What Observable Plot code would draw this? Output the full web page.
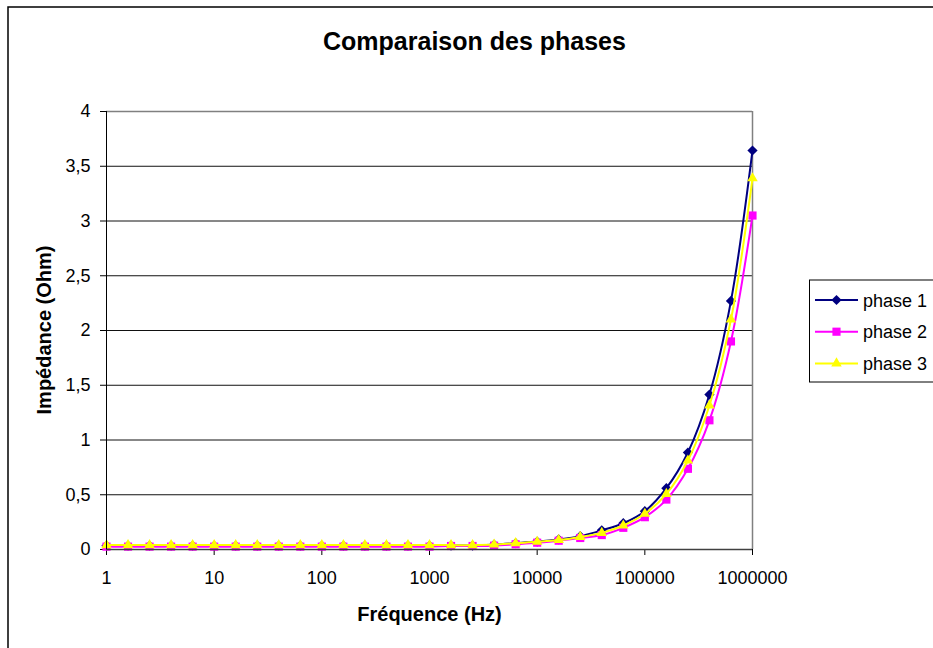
<!DOCTYPE html>
<html>
<head>
<meta charset="utf-8">
<script src="https://cdn.jsdelivr.net/npm/d3@7"></script>
<script src="https://cdn.jsdelivr.net/npm/@observablehq/plot@0.6"></script>
<style>
  html, body { margin: 0; padding: 0; background: #fff; }
  #chart { width: 933px; height: 648px; overflow: hidden; }
</style>
</head>
<body>
<div id="chart"></div>
<script>
// ---- data ----
const titleText = "Comparaison des phases";
const xLabel = "Fréquence (Hz)";
const yLabel = "Impédance (Ohm)";
const seriesNames = ["phase 1", "phase 2", "phase 3"];
const seriesColors = ["#000080", "#FF00FF", "#FFFF00"];
const seriesSymbols = ["diamond2", "square", "triangle"];
const seriesR = [4.6, 4.6, 3.9];

const freqs = [1, 1.585, 2.512, 3.981, 6.31, 10, 15.85, 25.12, 39.81, 63.1,
  100, 158.5, 251.2, 398.1, 631, 1000, 1585, 2512, 3981, 6310,
  10000, 15849, 25119, 39811, 63096, 100000, 158489, 251189, 398107, 630957, 1000000];

const phase1 = [0.035, 0.035, 0.035, 0.035, 0.035, 0.035, 0.035, 0.035, 0.035, 0.035,
  0.035, 0.035, 0.035, 0.035, 0.035, 0.035, 0.036, 0.036, 0.045, 0.058,
  0.072, 0.092, 0.122, 0.175, 0.24, 0.35, 0.56, 0.886, 1.415, 2.27, 3.644];
const phase2 = [0.026, 0.026, 0.026, 0.026, 0.026, 0.026, 0.026, 0.026, 0.026, 0.026,
  0.026, 0.026, 0.026, 0.026, 0.026, 0.026, 0.032, 0.032, 0.035, 0.048,
  0.062, 0.08, 0.105, 0.132, 0.198, 0.295, 0.456, 0.737, 1.18, 1.90, 3.05];
const phase3 = [0.04, 0.04, 0.04, 0.04, 0.04, 0.04, 0.04, 0.04, 0.04, 0.04,
  0.04, 0.04, 0.04, 0.04, 0.04, 0.04, 0.04, 0.04, 0.045, 0.058,
  0.07, 0.086, 0.115, 0.152, 0.219, 0.326, 0.508, 0.813, 1.315, 2.10, 3.39];

const yTicks = [0, 0.5, 1, 1.5, 2, 2.5, 3, 3.5, 4];
const xTicks = [1, 10, 100, 1000, 10000, 100000, 1000000];

// ---- build table ----
const seriesValues = [phase1, phase2, phase3];
const rows = [];
seriesNames.forEach((name, i) => {
  freqs.forEach((f, j) => rows.push({ f, v: seriesValues[i][j], s: name }));
});

const seriesMarks = [];
seriesNames.forEach((name, i) => {
  const d = rows.filter(r => r.s === name);
  seriesMarks.push(Plot.line(d, { x: "f", y: "v", stroke: seriesColors[i], strokeWidth: 2, curve: "catmull-rom" }));
  seriesMarks.push(Plot.dot(d, { x: "f", y: "v", symbol: seriesSymbols[i], r: seriesR[i], fill: seriesColors[i], stroke: "none" }));
});

const W = 933, H = 648;
const plot = Plot.plot({
  width: W,
  height: H,
  marginLeft: 106,
  marginRight: 181,
  marginTop: 111,
  marginBottom: 99,
  style: { fontFamily: "'Liberation Sans', Arial, sans-serif", fontSize: "18px", background: "#fff", color: "#000" },
  x: {
    type: "log", domain: [1, 1000000], ticks: xTicks, tickFormat: d => String(d),
    tickSize: 6, tickPadding: 16, label: null
  },
  y: {
    domain: [0, 4], ticks: yTicks, tickFormat: d => String(d).replace(".", ","),
    tickSize: 6, tickPadding: 10, label: null
  },
  marks: [
    Plot.ruleY(yTicks.filter(d => d > 0 && d < 4), { stroke: "#111", strokeWidth: 1 }),
    Plot.ruleY([4], { stroke: "#808080", strokeWidth: 1.5 }),
    Plot.ruleX([1000000], { stroke: "#808080", strokeWidth: 1.5 }),
    ...seriesMarks,
    Plot.ruleY([0], { stroke: "#404040", strokeWidth: 1.5 }),
    Plot.ruleX([1], { stroke: "#000", strokeWidth: 1 })
  ]
});

document.getElementById("chart").appendChild(plot);

// ---- decorations: border, titles, legend ----
const svg = d3.select(plot);
svg.insert("rect", ":first-child")
  .attr("x", 8).attr("y", 7).attr("width", 1200).attr("height", 1200)
  .attr("fill", "none").attr("stroke", "#000").attr("stroke-width", 1.5);

svg.append("text").text(titleText)
  .attr("x", 474.5).attr("y", 50)
  .attr("text-anchor", "middle").attr("font-weight", "bold").attr("font-size", 25).attr("fill", "#000");

svg.append("text").text(xLabel)
  .attr("x", 429.5).attr("y", 621)
  .attr("text-anchor", "middle").attr("font-weight", "bold").attr("font-size", 20).attr("fill", "#000");

svg.append("text").text(yLabel)
  .attr("transform", "translate(51,330) rotate(-90)")
  .attr("text-anchor", "middle").attr("font-weight", "bold").attr("font-size", 20).attr("fill", "#000");

const lg = svg.append("g");
lg.append("rect").attr("x", 809.5).attr("y", 280).attr("width", 200).attr("height", 102)
  .attr("fill", "#fff").attr("stroke", "#000").attr("stroke-width", 1);
const d3Sym = { diamond2: d3.symbolDiamond2, square: d3.symbolSquare, triangle: d3.symbolTriangle };
seriesNames.forEach((name, i) => {
  const y = 300 + i * 31.7;
  lg.append("line").attr("x1", 815).attr("x2", 858).attr("y1", y).attr("y2", y)
    .attr("stroke", seriesColors[i]).attr("stroke-width", 2);
  lg.append("path")
    .attr("d", d3.symbol(d3Sym[seriesSymbols[i]], Math.PI * seriesR[i] * seriesR[i])())
    .attr("transform", `translate(836.5,${y})`)
    .attr("fill", seriesColors[i]);
  lg.append("text").text(name).attr("x", 863).attr("y", y + 6.5)
    .attr("text-anchor", "start")
    .attr("font-size", 18).attr("fill", "#000");
});
</script>
</body>
</html>
